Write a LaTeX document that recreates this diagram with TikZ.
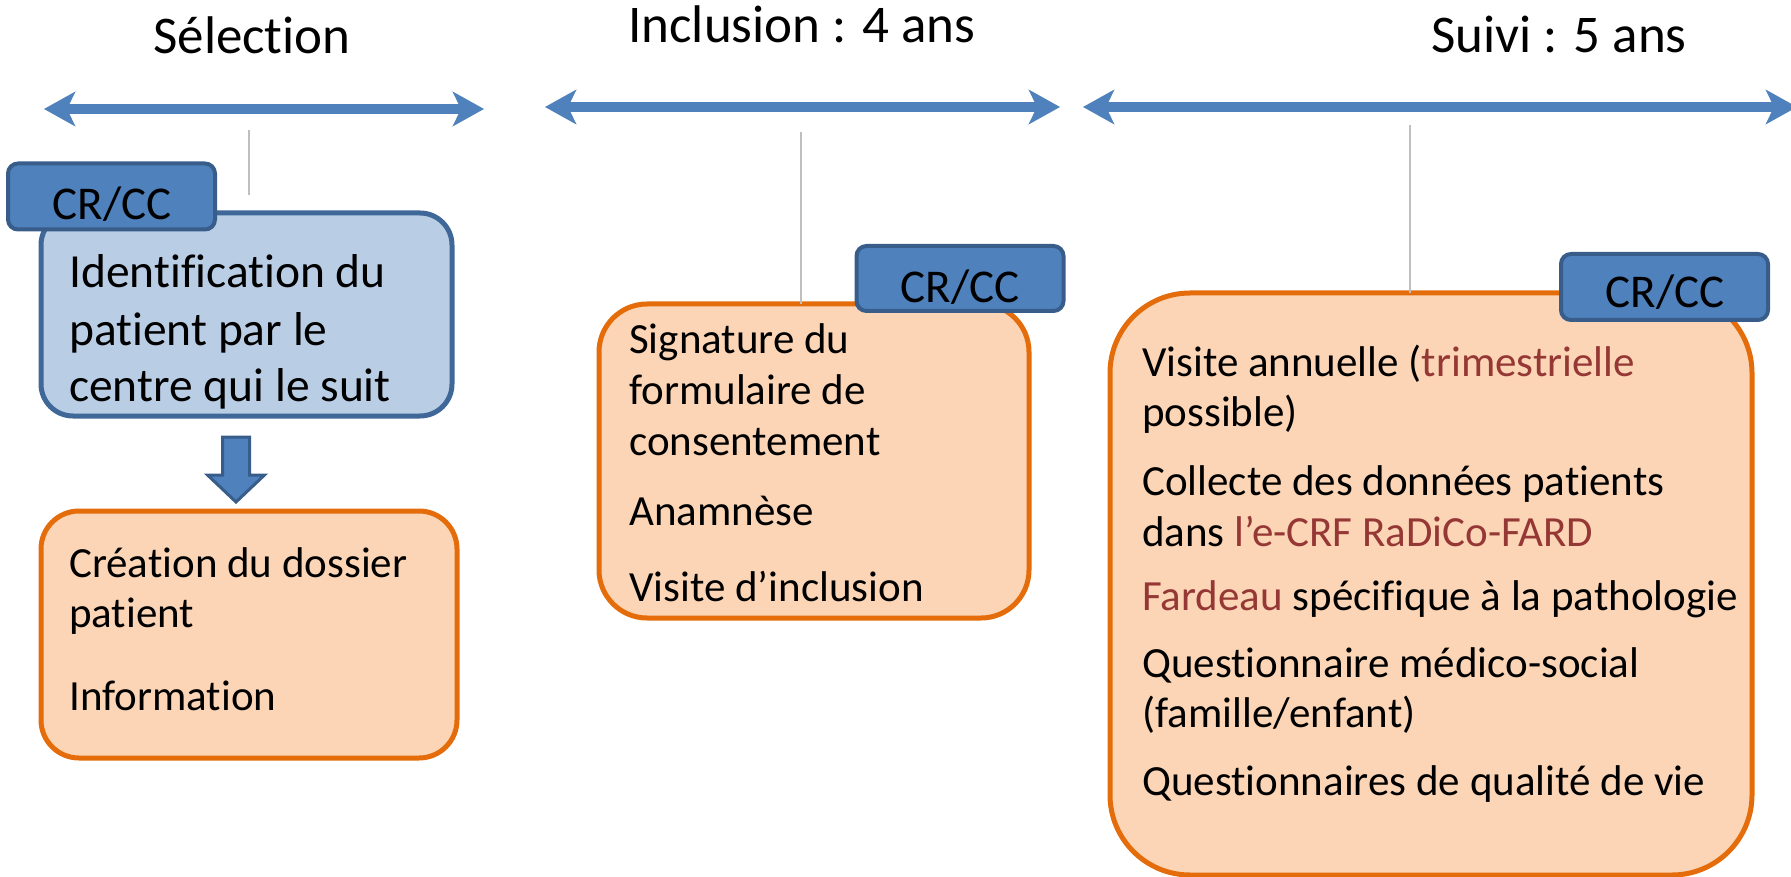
\documentclass[tikz,border=0pt]{standalone}
\usepackage{fontspec}
\setmainfont{Carlito}[RawFeature={-liga;-clig;-calt;-dlig}]
\usetikzlibrary{arrows.meta,calc}
\definecolor{arrowblue}{HTML}{4F81BD}
\definecolor{tabborder}{HTML}{385D8A}
\definecolor{lightblue}{HTML}{B9CDE5}
\definecolor{boxblueborder}{HTML}{3F6797}
\definecolor{orfill}{HTML}{FBD5B5}
\definecolor{orborder}{HTML}{E46C0A}
\definecolor{darkred}{HTML}{953735}
\definecolor{guide}{HTML}{BFBFBF}
\begin{document}
\begin{tikzpicture}[x=1pt,y=-1pt,
  timeline/.style={draw=arrowblue, line width=10pt,
    {Stealth[length=31pt,width=34pt,inset=8pt]}-{Stealth[length=31pt,width=34pt,inset=8pt]}},
  tlshadow/.style={draw=black!30, opacity=0.35, line width=10pt, xshift=1.5pt, yshift=-3pt,
    {Stealth[length=31pt,width=34pt,inset=8pt]}-{Stealth[length=31pt,width=34pt,inset=8pt]}},
  guideline/.style={draw=guide, line width=1.5pt},
  title/.style={anchor=base, inner sep=0, font=\fontsize{53}{60}\selectfont},
  tabbox/.style={draw=tabborder, fill=arrowblue, line width=4pt, rounded corners=10pt,
    minimum width=207pt, minimum height=66pt, inner sep=0, outer sep=0},
  tabtext/.style={anchor=base, inner sep=0, font=\fontsize{47}{54}\selectfont},
  bluebox/.style={draw=boxblueborder, fill=lightblue, line width=5pt, rounded corners=32pt,
    inner sep=0, outer sep=0},
  orbox/.style={draw=orborder, fill=orfill, line width=5pt, inner sep=0, outer sep=0},
  bigtxt/.style={anchor=base west, inner sep=0, font=\fontsize{47.5}{54}\selectfont},
  txt/.style={anchor=base west, inner sep=0, font=\fontsize{43}{50}\selectfont},
  downarrow/.style={draw=tabborder, fill=arrowblue, line width=3pt, line join=miter}
]
\useasboundingbox (0,0) rectangle (1791,877);

% titles
\node[title] (tsel) at (252,54) {Sélection};
\node[title] (tinc) at (802,43) {Inclusion : 4 ans};
\node[title] (tsuivi) at (1559,53) {Suivi : 5 ans};

% timeline arrows
\coordinate (a1l) at (44,109);  \coordinate (a1r) at (484,109);
\coordinate (a2l) at (545,107); \coordinate (a2r) at (1060,107);
\coordinate (a3l) at (1083,107); \coordinate (a3r) at (1797,107);
\draw[tlshadow] (a1l) -- (a1r);
\draw[tlshadow] (a2l) -- (a2r);
\draw[tlshadow] (a3l) -- (a3r);
\draw[timeline] (a1l) -- (a1r);
\draw[timeline] (a2l) -- (a2r);
\draw[timeline] (a3l) -- (a3r);

% guide lines
\coordinate (g1t) at (249,130); \coordinate (g1b) at (249,195);
\coordinate (g2t) at (801,132);
\coordinate (g3t) at (1410,125);

% boxes
\node[bluebox, minimum width=411pt, minimum height=203pt] (blue) at (246.5,314.5) {};
\node[orbox, rounded corners=38pt, minimum width=416pt, minimum height=247pt] (or1) at (249,634.5) {};
\node[orbox, rounded corners=48pt, minimum width=430pt, minimum height=314pt] (or2) at (814,461) {};
\node[orbox, rounded corners=80pt, minimum width=642pt, minimum height=582pt] (or3) at (1431,584) {};

\draw[guideline] (g1t) -- (g1b);
\draw[guideline] (g2t) -- (g2t |- or2.north);
\draw[guideline] (g3t) -- (g3t |- or3.north);

% tabs
\node[tabbox] (tab1) at (111.5,196.5) {};
\node[tabbox, minimum height=65pt] (tab2) at (960,278.5) {};
\node[tabbox] (tab3) at (1664.5,287) {};
\node[tabtext] (tab1t) at (112,220) {CR/CC};
\node[tabtext] (tab2t) at (960,302) {CR/CC};
\node[tabtext] (tab3t) at (1665,308) {CR/CC};

% down arrow between blue box and orange box
\draw[downarrow, shift={(236,437)}] (-13.5,0) -- (13.5,0) -- (13.5,38) -- (28.5,38) -- (0,65)
  -- (-28.5,38) -- (-13.5,38) -- cycle;

% selection texts
\node[bigtxt] (s1) at (69,288) {Identification du};
\node[bigtxt] (s2) at (69,345) {patient par le};
\node[bigtxt] (s3) at (69,401) {centre qui le suit};
\node[txt] (s4) at (69,577) {Création du dossier};
\node[txt] (s5) at (69,627) {patient};
\node[txt] (s6) at (69,710) {Information};

% inclusion texts
\node[txt] (i1) at (629,353) {Signature du};
\node[txt] (i2) at (629,404) {formulaire de};
\node[txt] (i3) at (629,455) {consentement};
\node[txt] (i4) at (629,525) {Anamnèse};
\node[txt] (i5) at (629,601) {Visite d’inclusion};

% suivi texts
\node[txt] (v1) at (1142,376) {Visite annuelle (\textcolor{darkred}{trimestrielle}};
\node[txt] (v2) at (1142,426) {possible)};
\node[txt] (v3) at (1142,495) {Collecte des données patients};
\node[txt] (v4) at (1142,546) {dans \textcolor{darkred}{l’e-CRF RaDiCo-FARD}};
\node[txt] (v5) at (1142,610) {\textcolor{darkred}{Fardeau} spécifique à la pathologie};
\node[txt] (v6) at (1142,677) {Questionnaire médico-social};
\node[txt] (v7) at (1142,727) {(famille/enfant)};
\node[txt] (v8) at (1142,795) {Questionnaires de qualité de vie};
\end{tikzpicture}
\end{document}
